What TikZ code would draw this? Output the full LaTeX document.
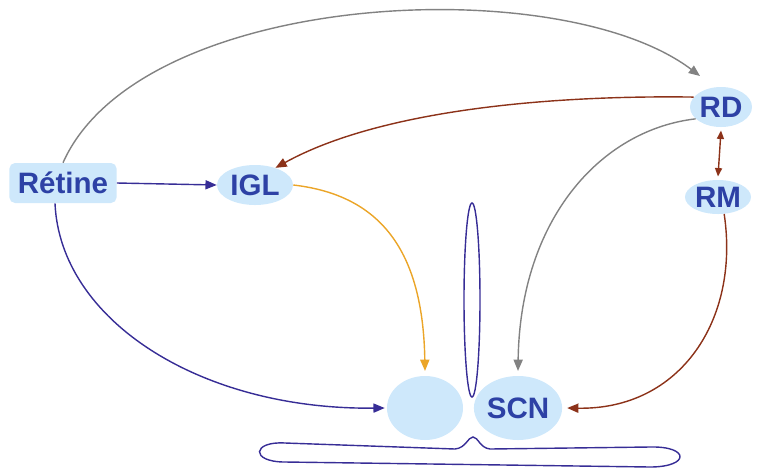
\documentclass[tikz,border=0pt]{standalone}
\usepackage{fontspec}
\setmainfont{Liberation Sans}
\usetikzlibrary{shapes.geometric,arrows.meta}

\definecolor{noyau}{RGB}{206,232,251}
\definecolor{texteBleu}{RGB}{45,65,165}
\definecolor{traitBleu}{RGB}{55,45,150}
\definecolor{brun}{RGB}{140,50,25}
\definecolor{orangeIGL}{RGB}{235,165,40}
\definecolor{grisRD}{RGB}{130,130,130}

\begin{document}
\begin{tikzpicture}[x=0.025cm,y=-0.025cm,
    font=\fontsize{21}{25}\selectfont\bfseries,
    zone/.style={fill=noyau, text=texteBleu, inner sep=0pt},
    ovale/.style={zone, ellipse},
    fleche/.style={line width=1pt, -{Triangle[length=8pt,width=6.5pt]}}]
    \useasboundingbox (0,0) rectangle (758,470);

    % noyaux
    \node[zone, rounded corners=4pt, minimum width=2.68cm, minimum height=1cm] (retine) at (63,183) {Rétine};
    \node[ovale, minimum width=1.9cm, minimum height=1cm] (igl) at (255,185) {IGL};
    \node[ovale, minimum width=1.55cm, minimum height=1cm] (rd) at (721,107) {RD};
    \node[ovale, minimum width=1.65cm, minimum height=0.85cm] (rm) at (718,197) {RM};
    \node[ovale, minimum width=1.9cm, minimum height=1.6cm] (scnG) at (425,408) {};
    \node[ovale, minimum width=1.93cm, minimum height=1.6cm] (scn) at (518,408) {SCN};

    % troisieme ventricule et chiasma
    \draw[traitBleu, line width=1pt] (472,300) ellipse (8 and 97);
    \draw[traitBleu, line width=1pt] (473,437) .. controls (468,437) and (466,448) .. (455,449)
        -- (285,443) .. controls (252,441) and (250,462) .. (285,462)
        -- (650,467) .. controls (690,467) and (690,446) .. (650,447)
        -- (490,449) .. controls (480,448) and (478,437) .. cycle;

    % projections
    \draw[fleche, grisRD] (retine.north) .. controls (140,-10) and (560,-30) .. (700,76);
    \draw[fleche, brun] (rd.160) .. controls (550,95) and (380,110) .. (igl.40);
    \draw[fleche, grisRD] (rd.205) .. controls (600,130) and (520,220) .. ([yshift=0.12cm]scn.north);
    \draw[fleche, orangeIGL] (igl.east) .. controls (380,195) and (423,250) .. ([yshift=0.12cm]scnG.north);
    \draw[fleche, traitBleu] (retine.east) -- (igl.west);
    \draw[fleche, traitBleu] ([xshift=-0.2cm]retine.south) .. controls (60,320) and (200,410) .. ([xshift=-0.05cm]scnG.west);
    \draw[fleche, brun] (rm.-70) .. controls (740,320) and (680,410) .. ([xshift=0.12cm]scn.east);
    \draw[line width=1pt, brun, {Triangle[length=6pt,width=5pt]}-{Triangle[length=6pt,width=5pt]}]
        ([yshift=-0.08cm]rd.south) -- ([yshift=0.08cm]rm.north);
\end{tikzpicture}
\end{document}
